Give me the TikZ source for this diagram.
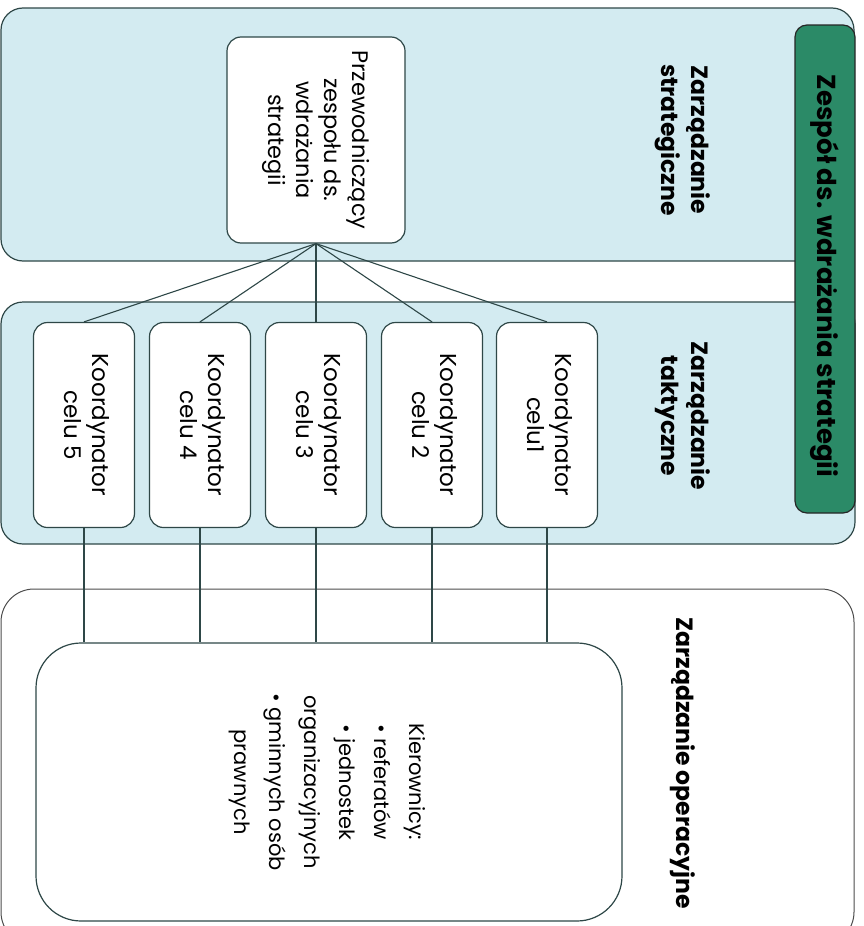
\documentclass[tikz,border=0pt]{standalone}
\usepackage{fontspec}
\setmainfont{Poppins}
\usepackage{graphicx}
\definecolor{panelblue}{HTML}{D3EBF1}
\definecolor{teamgreen}{HTML}{2B8A67}
\definecolor{edgegray}{HTML}{2E4747}
\tikzset{
	panel/.style={draw=edgegray, line width=1.2pt, fill=panelblue, rounded corners=22pt},
	unit/.style={draw=edgegray, line width=1.2pt, fill=white, rounded corners=14pt, inner sep=0pt},
	link/.style={draw=edgegray, line width=1.1pt},
	head/.style={font=\fontsize{23.5}{30}\selectfont\bfseries, align=center, rotate=-90},
}
\newcommand{\vtext}[3]{\rotatebox{-90}{\fontsize{#1}{#2}\selectfont\begin{tabular}{@{}c@{}}#3\end{tabular}}}

\begin{document}
\begin{tikzpicture}[x=1pt, y=-1pt]
			%%%%% START %%%%%
			\useasboundingbox (0, 0) rectangle (864, 926);
			
			\draw[panel] (1, 8) rectangle (854, 261);
			\draw[panel] (1, 302) rectangle (855, 544);
			\draw[draw=gray!60!black, line width=1pt, rounded corners=33pt] (1, 589) rectangle (854, 945);
			
			\draw[fill=teamgreen, draw=black!85, line width=1.2pt, rounded corners=12pt] (795, 25) rectangle (855, 513);
			\node[head, font=\fontsize{26}{30}\selectfont\bfseries] (team) at (825, 276) {Zespół ds. wdrażania strategii};
			
			\node[head] (strat) at (683, 140) {Zarządzanie\\strategiczne};
			\node[head] (takt) at (683, 416) {Zarządzanie\\taktyczne};
			\node[head] (oper) at (683, 763) {Zarządzanie operacyjne};
			
			\node[unit, minimum width=178pt, minimum height=206pt] (chair) at (316, 140) {\vtext{22.5}{28}{Przewodniczący\\zespołu ds.\\wdrażania\\strategii}};
			
			\node[unit, minimum width=101pt, minimum height=205pt] (c1) at (547, 425) {\vtext{23}{28}{Koordynator\\celu1}};
			\node[unit, minimum width=101pt, minimum height=205pt] (c2) at (432, 425) {\vtext{23}{28}{Koordynator\\celu 2}};
			\node[unit, minimum width=101pt, minimum height=205pt] (c3) at (316, 425) {\vtext{23}{28}{Koordynator\\celu 3}};
			\node[unit, minimum width=101pt, minimum height=205pt] (c4) at (200, 425) {\vtext{23}{28}{Koordynator\\celu 4}};
			\node[unit, minimum width=101pt, minimum height=205pt] (c5) at (84, 425) {\vtext{23}{28}{Koordynator\\celu 5}};
			
			\node[unit, rounded corners=45pt, minimum width=586pt, minimum height=278pt] (kier) at (329, 782) {\vtext{21}{35}{Kierownicy:\\• referatów\\• jednostek\\organizacyjnych\\• gminnych osób\\prawnych}};
			
			\draw[link] (chair.south) -- (c1.north);
			\draw[link] (chair.south) -- (c2.north);
			\draw[link] (chair.south) -- (c3.north);
			\draw[link] (chair.south) -- (c4.north);
			\draw[link] (chair.south) -- (c5.north);
			
			\draw[link] (c1.south) -- (c1.south |- kier.north);
			\draw[link] (c2.south) -- (c2.south |- kier.north);
			\draw[link] (c3.south) -- (c3.south |- kier.north);
			\draw[link] (c4.south) -- (c4.south |- kier.north);
			\draw[link] (c5.south) -- (c5.south |- kier.north);
			
			%%%%% END %%%%%
\end{tikzpicture}
\end{document}
